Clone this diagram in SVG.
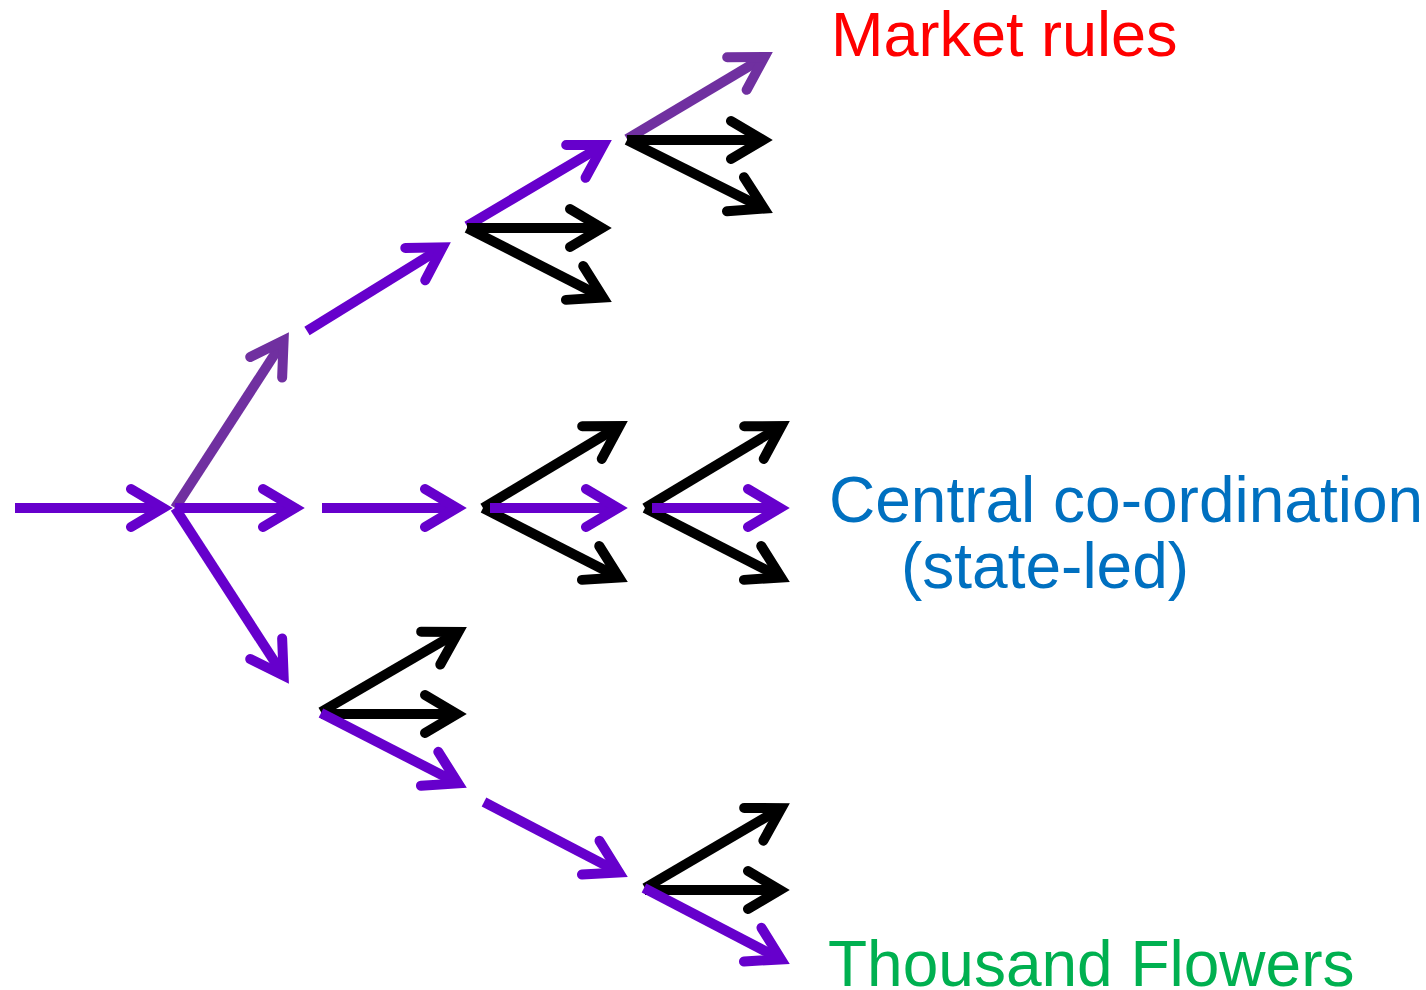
<svg xmlns="http://www.w3.org/2000/svg" width="1426" height="990" viewBox="0 0 1426 990">
  <style>
    .sh { fill: none; stroke-width: 10; stroke-linecap: butt; }
    .p { stroke: #6600CC; }
    .dp { stroke: #7030A0; }
    .k { stroke: #000000; }
    .p.sh { marker-end: url(#headP); }
    .dp.sh { marker-end: url(#headDP); }
    .k.sh { marker-end: url(#headK); }
    .label { font-family: "Liberation Sans", Arial, sans-serif; font-size: 64px; }
  </style>
  <defs>
    <!-- open arrowheads: vertex at the shaft end, barbs swept back -->
    <marker id="headP" markerUnits="userSpaceOnUse" orient="auto" refX="0" refY="0" markerWidth="80" markerHeight="60" viewBox="-50 -30 80 60" overflow="visible">
      <path d="M-32,-19 L0,0 L-32,19" fill="none" stroke="#6600CC" stroke-width="10" stroke-linecap="round" stroke-linejoin="miter" stroke-miterlimit="6"/>
    </marker>
    <marker id="headDP" markerUnits="userSpaceOnUse" orient="auto" refX="0" refY="0" markerWidth="80" markerHeight="60" viewBox="-50 -30 80 60" overflow="visible">
      <path d="M-32,-19 L0,0 L-32,19" fill="none" stroke="#7030A0" stroke-width="10" stroke-linecap="round" stroke-linejoin="miter" stroke-miterlimit="6"/>
    </marker>
    <marker id="headK" markerUnits="userSpaceOnUse" orient="auto" refX="0" refY="0" markerWidth="80" markerHeight="60" viewBox="-50 -30 80 60" overflow="visible">
      <path d="M-32,-19 L0,0 L-32,19" fill="none" stroke="#000000" stroke-width="10" stroke-linecap="round" stroke-linejoin="miter" stroke-miterlimit="6"/>
    </marker>
  </defs>

  <g id="connectors">
    <!-- first fork -->
    <line class="sh dp" x1="175" y1="508" x2="283.6" y2="340.4"/>
    <line class="sh p" x1="15" y1="508" x2="163" y2="508"/>
    <line class="sh p" x1="175" y1="508" x2="295" y2="508"/>
    <line class="sh p" x1="175" y1="508" x2="283.6" y2="675.6"/>

    <!-- upper branch -->
    <line class="sh p" x1="307" y1="331" x2="442.5" y2="247.3"/>
    <line class="sh p" x1="467" y1="226" x2="603.4" y2="145.1"/>
    <line class="sh k" x1="467" y1="228" x2="602" y2="228"/>
    <line class="sh k" x1="467" y1="228" x2="603.1" y2="297.5"/>
    <line class="sh dp" x1="627" y1="139" x2="764.4" y2="57.1"/>
    <line class="sh k" x1="627" y1="140" x2="763" y2="140"/>
    <line class="sh k" x1="627" y1="140" x2="764.1" y2="208.5"/>

    <!-- middle branch -->
    <line class="sh p" x1="322" y1="508" x2="457" y2="508"/>
    <line class="sh k" x1="483" y1="508" x2="619.4" y2="426.1"/>
    <line class="sh k" x1="483" y1="508" x2="619.1" y2="577.5"/>
    <line class="sh p" x1="490" y1="508" x2="618" y2="508"/>
    <line class="sh k" x1="645" y1="508" x2="781.4" y2="426.1"/>
    <line class="sh k" x1="645" y1="508" x2="781.1" y2="577.5"/>
    <line class="sh p" x1="652" y1="508" x2="780" y2="508"/>

    <!-- lower branch -->
    <line class="sh k" x1="321" y1="712" x2="458.4" y2="632"/>
    <line class="sh k" x1="321" y1="714" x2="457" y2="714"/>
    <line class="sh p" x1="321" y1="713" x2="458.1" y2="783.4"/>
    <line class="sh p" x1="484" y1="802" x2="619.1" y2="872.4"/>
    <line class="sh k" x1="645" y1="888" x2="781.4" y2="808.1"/>
    <line class="sh k" x1="645" y1="890" x2="780" y2="890"/>
    <line class="sh p" x1="644" y1="888" x2="781.1" y2="959.4"/>
  </g>

  <g id="label-market">
    <text class="label" x="831" y="56" fill="#FF0000" style="font-size:63px">Market rules</text>
  </g>
  <g id="label-central">
    <text class="label" x="829" y="522" fill="#0070C0">Central co-ordination</text>
    <text class="label" x="901" y="588" fill="#0070C0">(state-led)</text>
  </g>
  <g id="label-thousand">
    <text class="label" x="828" y="986" fill="#00B050">Thousand Flowers</text>
  </g>
</svg>
